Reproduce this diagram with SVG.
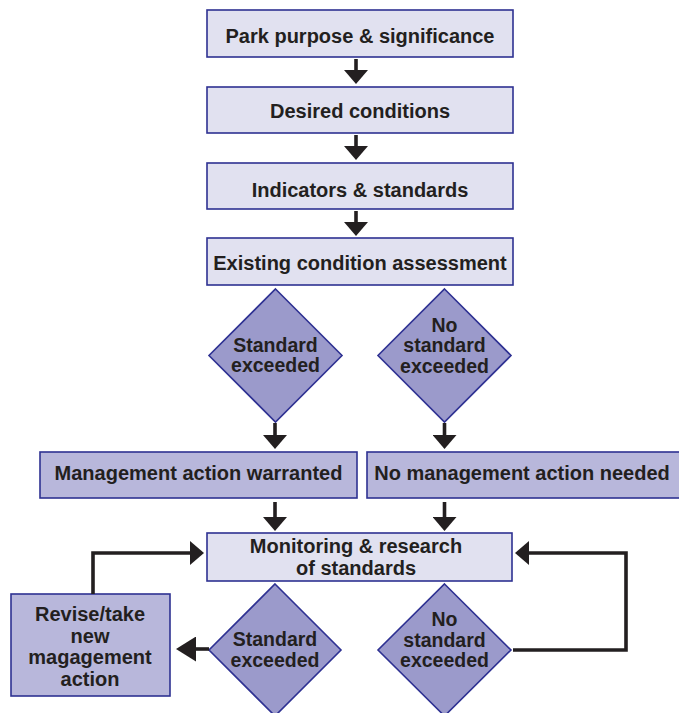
<svg xmlns="http://www.w3.org/2000/svg" width="679" height="713" viewBox="0 0 679 713">
<style>
  .light { fill: #e1e1f0; stroke: #2e3192; stroke-width: 1.6; }
  .mid { fill: #b8b7db; stroke: #2e3192; stroke-width: 1.6; }
  .dia { fill: #9b9acb; stroke: #2e3192; stroke-width: 1.6; }
  text { font-family: "Liberation Sans", Arial, Helvetica, sans-serif; font-weight: bold; font-size: 20px; fill: #231f20; text-anchor: middle; }
  .dt { font-size: 19.5px; }
  .conn { fill: none; stroke: #231f20; stroke-width: 3.6; }
</style>
<defs>
  <marker id="ah" viewBox="0 0 14 24" refX="0" refY="12" markerWidth="14" markerHeight="24" markerUnits="userSpaceOnUse" orient="auto">
    <path d="M0,0 L14,12 L0,24 Z" fill="#231f20"/>
  </marker>
  <marker id="ahBig" viewBox="0 0 20 25" refX="0" refY="12.5" markerWidth="20" markerHeight="25" markerUnits="userSpaceOnUse" orient="auto">
    <path d="M0,0 L20,12.5 L0,25 Z" fill="#231f20"/>
  </marker>
</defs>

<g id="n-purpose">
  <rect class="light" x="207" y="10" width="306" height="47"/>
  <text x="360" y="43">Park purpose &amp; significance</text>
</g>
<g id="n-desired">
  <rect class="light" x="207" y="87" width="306" height="46"/>
  <text x="360" y="118">Desired conditions</text>
</g>
<g id="n-indicators">
  <rect class="light" x="207" y="163" width="306" height="46"/>
  <text x="360" y="197">Indicators &amp; standards</text>
</g>
<g id="n-existing">
  <rect class="light" x="207" y="238" width="306" height="47"/>
  <text x="360" y="270">Existing condition assessment</text>
</g>
<g id="n-dia-exceeded">
  <polygon class="dia" points="275.5,289 342,355.5 275.5,422 209,355.5"/>
  <text class="dt" x="275.5" y="351.5">Standard</text>
  <text class="dt" x="275.5" y="372">exceeded</text>
</g>
<g id="n-dia-not-exceeded">
  <polygon class="dia" points="444.5,289 511,355.5 444.5,422 378,355.5"/>
  <text class="dt" x="444.5" y="331.5">No</text>
  <text class="dt" x="444.5" y="352">standard</text>
  <text class="dt" x="444.5" y="372.5">exceeded</text>
</g>
<g id="n-action-warranted">
  <rect class="mid" x="40" y="452" width="317" height="46"/>
  <text x="198.5" y="480">Management action warranted</text>
</g>
<g id="n-no-action">
  <rect class="mid" x="367" y="452" width="314" height="46"/>
  <text x="522" y="480">No management action needed</text>
</g>
<g id="n-monitoring">
  <rect class="light" x="207" y="533" width="305" height="48"/>
  <text x="356" y="553">Monitoring &amp; research</text>
  <text x="356" y="575">of standards</text>
</g>
<g id="n-revise">
  <rect class="mid" x="11" y="594" width="159" height="102"/>
  <text x="90" y="621">Revise/take</text>
  <text x="90" y="642.5">new</text>
  <text x="90" y="664">magagement</text>
  <text x="90" y="685.5">action</text>
</g>
<g id="n-dia2-exceeded">
  <polygon class="dia" points="275,584 341,650 275,716 209,650"/>
  <text class="dt" x="275" y="646">Standard</text>
  <text class="dt" x="275" y="666.5">exceeded</text>
</g>
<g id="n-dia2-not-exceeded">
  <polygon class="dia" points="444.5,584 511,650 444.5,716 378,650"/>
  <text class="dt" x="444.5" y="626">No</text>
  <text class="dt" x="444.5" y="646.5">standard</text>
  <text class="dt" x="444.5" y="667">exceeded</text>
</g>

<g id="connectors">
  <line class="conn" x1="356" y1="59" x2="356" y2="70" marker-end="url(#ah)"/>
  <line class="conn" x1="356" y1="135" x2="356" y2="146" marker-end="url(#ah)"/>
  <line class="conn" x1="356" y1="211" x2="356" y2="222" marker-end="url(#ah)"/>
  <line class="conn" x1="275" y1="423" x2="275" y2="435" marker-end="url(#ah)"/>
  <line class="conn" x1="444.5" y1="423" x2="444.5" y2="435" marker-end="url(#ah)"/>
  <line class="conn" x1="275" y1="502" x2="275" y2="517" marker-end="url(#ah)"/>
  <line class="conn" x1="444.5" y1="502" x2="444.5" y2="517" marker-end="url(#ah)"/>
  <polyline class="conn" points="93,594 93,553 190,553" marker-end="url(#ah)"/>
  <polyline class="conn" points="513,650 626,650 626,553 529,553" marker-end="url(#ah)"/>
  <line class="conn" x1="209" y1="649" x2="196" y2="649" marker-end="url(#ahBig)"/>
</g>
</svg>
